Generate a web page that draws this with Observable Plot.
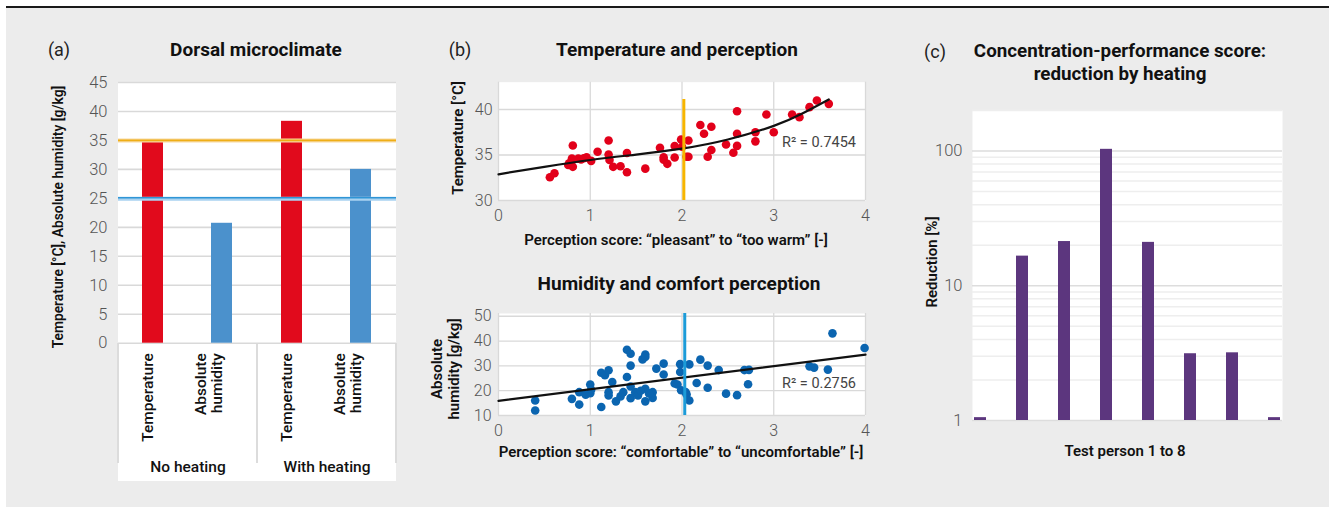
<!DOCTYPE html>
<html>
<head>
<meta charset="utf-8">
<script src="https://cdn.jsdelivr.net/npm/d3@7"></script>
<script src="https://cdn.jsdelivr.net/npm/@observablehq/plot@0.6"></script>
<style>
  html, body { margin: 0; padding: 0; background: #ffffff; }
  #root { position: relative; width: 1335px; height: 507px; overflow: hidden; font-family: Roboto, "Liberation Sans", sans-serif; }
  .bg { position: absolute; left: 6px; top: 8px; width: 1323px; height: 499px; background: #ececec; }
  .topline { position: absolute; left: 6px; top: 6px; width: 1323px; height: 2px; background: #1a1a1a; }
  .lbl { position: absolute; white-space: pre; text-align: center; color: #111; line-height: 1.15; }
  .plot { position: absolute; }
  .box { position: absolute; background: #ffffff; }
  .sep { position: absolute; background: #dcdcdc; width: 2px; }
</style>
</head>
<body>
<div id="root">
  <div class="bg"></div>
  <div class="topline"></div>
</div>
<script>
// ---------------- DATA ----------------
// (a) Dorsal microclimate
const groupsA = ["No heating", "With heating"];
const catsA = ["Temperature", "Absolute humidity"];
const catLabelsA = ["Temperature", "Absolute\nhumidity"];
const noHeating = [34.7, 20.7];
const withHeating = [38.3, 30.0];
const refTemperature = 35;
const refHumidity = 25.1;
const yTicksA = [0, 5, 10, 15, 20, 25, 30, 35, 40, 45];

// (b) Temperature and perception
const tempScore = [0.56,0.61,0.77,0.81,0.80,0.81,0.87,0.93,0.96,1.01,1.08,1.20,1.20,1.21,1.25,1.33,1.40,1.40,1.60,1.76,1.80,1.80,1.84,1.92,1.92,1.99,2.00,2.05,2.07,2.07,2.20,2.24,2.28,2.32,2.32,2.48,2.56,2.60,2.60,2.60,2.80,2.80,2.92,3.00,3.20,3.28,3.39,3.47,3.60,0.76,0.90];
const tempValue = [32.56,33.0,34.1,36.04,34.6,33.7,34.6,34.65,34.76,34.35,35.35,36.6,35.05,34.45,33.7,33.77,35.22,33.1,33.5,35.8,34.76,34.47,34.03,35.98,34.72,36.7,35.9,34.8,36.6,34.8,38.3,37.33,34.8,38.1,35.55,36.15,35.24,39.8,37.33,36.0,37.5,36.5,39.45,37.5,39.45,39.16,40.26,40.99,40.62,33.9,34.5];
const tempTrendX = [0, 0.5, 1, 1.5, 2, 2.5, 3, 3.3, 3.6];
const tempTrendY = [32.88, 33.7, 34.45, 35.05, 35.7, 36.7, 38.2, 39.5, 41.1];
const tempThreshold = 2.02;
const tempThresholdTop = 41.1;
const tempR2 = "R² = 0.7454";
const xTicksB = [0, 1, 2, 3, 4];
const yTicksB1 = [30, 35, 40];

// (b) Humidity and comfort perception
const humScore = [0.40,0.40,0.80,0.88,0.88,0.95,1.00,1.00,1.01,1.12,1.12,1.16,1.20,1.20,1.20,1.24,1.28,1.33,1.36,1.40,1.40,1.44,1.44,1.44,1.44,1.49,1.52,1.57,1.60,1.60,1.60,1.60,1.68,1.68,1.72,1.80,1.80,1.92,1.95,1.98,1.98,1.99,2.04,2.05,2.08,2.08,2.16,2.20,2.28,2.28,2.40,2.48,2.60,2.68,2.73,2.72,3.39,3.44,3.59,3.64,3.99,1.55,1.64];
const humValue = [16.06,12.0,16.7,14.4,19.4,18.4,22.5,19.0,20.4,13.4,27.2,26.2,28.2,19.4,18.1,23.5,15.7,17.7,19.4,25.5,36.5,34.9,30.1,17.0,21.7,19.4,18.1,32.6,34.6,33.6,20.8,15.7,19.4,17.1,28.9,30.9,26.5,22.9,22.5,30.7,27.5,20.2,19.4,18.5,16.06,30.6,23.1,32.5,30.1,21.2,28.3,18.8,18.2,28.3,28.4,22.6,29.8,29.3,28.5,43.1,37.2,20.0,18.9];
const humTrendX = [0, 4];
const humTrendY = [15.9, 34.5];
const humThreshold = 2.03;
const humR2 = "R² = 0.2756";
const yTicksB2 = [10, 20, 30, 40, 50];

// (c) Concentration-performance score
const persons = [1, 2, 3, 4, 5, 6, 7, 8];
const reduction = [1.05, 16.6, 21.3, 103, 21.0, 3.13, 3.18, 1.05];
const yTicksC = [1, 10, 100];
const yMinorC = [2,3,4,5,6,7,8,9,20,30,40,50,60,70,80,90,200];

// ---------------- STYLE ----------------
const FONT = 'Roboto, "Liberation Sans", sans-serif';
const RED = "#e10a1c";
const BLUE_BAR = "#4b91cc";
const DOT_RED = "#e2001a";
const DOT_BLUE = "#0b65b0";
const GRID = "#d9d9d9";
const TICK = "#555555";

const root = document.getElementById("root");

function place(el, left, top) {
  el.classList.add("plot");
  el.style.left = left + "px";
  el.style.top = top + "px";
  root.appendChild(el);
}
function label(text, cx, cy, {size = 14, weight = 500, rotate = 0, color = "#111"} = {}) {
  const d = document.createElement("div");
  d.className = "lbl";
  d.textContent = text;
  d.style.left = cx + "px";
  d.style.top = cy + "px";
  d.style.fontSize = size + "px";
  d.style.fontWeight = weight;
  d.style.color = color;
  d.style.transform = `translate(-50%,-50%)` + (rotate ? ` rotate(${rotate}deg)` : "");
  root.appendChild(d);
}
function box(l, t, w, h, cls = "box") {
  const d = document.createElement("div");
  d.className = cls;
  d.style.left = l + "px"; d.style.top = t + "px";
  d.style.width = w + "px"; d.style.height = h + "px";
  root.appendChild(d);
}
const baseStyle = {fontFamily: FONT, background: "transparent", overflow: "visible", color: TICK};

// ---------------- PANEL (a) ----------------
const FA = {left: 118, right: 396, top: 82, bottom: 342.7};
box(FA.left, FA.top, FA.right - FA.left, 481 - FA.top);
[FA.left, (FA.left + FA.right) / 2, FA.right].forEach(x => box(x - 1, 343, 2, 120, "sep"));

const dataA = groupsA.flatMap((g, i) => catsA.map((c, j) => ({
  group: g, cat: c, label: catLabelsA[j], value: (i === 0 ? noHeating : withHeating)[j]
})));

const plotA = Plot.plot({
  width: FA.right + 24,
  height: 507,
  marginLeft: FA.left, marginRight: 24, marginTop: FA.top, marginBottom: 507 - FA.bottom,
  style: {...baseStyle, fontSize: "16px"},
  fx: {domain: groupsA, padding: 0, label: null},
  x: {domain: catsA, paddingInner: 0.69, paddingOuter: 0.345, axis: null},
  y: {domain: [0, 45], label: null},
  color: {domain: catsA, range: [RED, BLUE_BAR]},
  marks: [
    Plot.gridY(yTicksA, {stroke: GRID, strokeOpacity: 1, strokeWidth: 1.6}),
    Plot.barY(dataA, {fx: "group", x: "cat", y: "value", fill: "cat"}),
    Plot.ruleY([refTemperature], {stroke: "#f7d9a0", strokeWidth: 4}),
    Plot.ruleY([refTemperature], {stroke: "#efae16", strokeWidth: 1.8}),
    Plot.ruleY([refHumidity], {stroke: "#a9d2f0", strokeWidth: 4, dy: 1}),
    Plot.ruleY([refHumidity], {stroke: "#2f95d6", strokeWidth: 1.6}),
    Plot.text(dataA, {fx: "group", x: "cat", text: "label", frameAnchor: "bottom", dy: 10,
      rotate: -90, textAnchor: "end", fontSize: 15.5, fontWeight: 500, fill: "#111", lineHeight: 1.05}),
    Plot.axisY(yTicksA, {tickSize: 0, tickPadding: 11, fontSize: 16.5, fontWeight: 300, fill: TICK, label: null}),
    Plot.axisFx({anchor: "bottom", tickSize: 0, tickPadding: 118, fontSize: 15.5, fontWeight: 500, fill: "#111", label: null})
  ]
});
place(plotA, 0, 0);

label("(a)", 59, 50, {size: 18, weight: 400, color: "#222"});
label("Dorsal microclimate", 256, 50, {size: 19, weight: 700});
label("Temperature [°C], Absolute humidity [g/kg]", 59, 217, {size: 13.8, weight: 600, rotate: -90});

// ---------------- PANEL (b) top ----------------
const FB1 = {left: 498, right: 865, top: 81.7, bottom: 200};
const svgB1 = {left: 420, top: 60};
const dataB1 = tempScore.map((s, i) => ({s, v: tempValue[i]}));
const trendB1 = tempTrendX.map((x, i) => ({x, y: tempTrendY[i]}));
const plotB1 = Plot.plot({
  width: 460,
  height: FB1.bottom - svgB1.top + 30,
  marginLeft: FB1.left - svgB1.left, marginRight: 460 - (FB1.right - svgB1.left),
  marginTop: FB1.top - svgB1.top, marginBottom: 30,
  style: {...baseStyle, fontSize: "16px"},
  x: {domain: [0, 4], label: null},
  y: {domain: [30, 43], label: null},
  marks: [
    Plot.frame({fill: "white", stroke: null}),
    Plot.gridX(xTicksB, {stroke: GRID, strokeOpacity: 1, strokeWidth: 1.3}),
    Plot.gridY(yTicksB1, {stroke: GRID, strokeOpacity: 1, strokeWidth: 1.3}),
    Plot.dot(dataB1, {x: "s", y: "v", r: 4.3, fill: DOT_RED}),
    Plot.line(trendB1, {x: "x", y: "y", stroke: "#111", strokeWidth: 2.2, curve: "natural"}),
    Plot.ruleX([tempThreshold], {y1: 30, y2: tempThresholdTop, stroke: "#f7b500", strokeWidth: 3}),
    Plot.text([tempR2], {x: 3.09, y: 36.4, text: d => d, textAnchor: "start", fontSize: 14.5, fill: "#444"}),
    Plot.axisX(xTicksB, {tickSize: 0, tickPadding: 9, fontWeight: 300, fill: TICK, label: null}),
    Plot.axisY(yTicksB1, {tickSize: 0, tickPadding: 6, fontWeight: 300, fill: TICK, label: null})
  ]
});
place(plotB1, svgB1.left, svgB1.top);

label("(b)", 460, 50, {size: 18, weight: 400, color: "#222"});
label("Temperature and perception", 677, 50, {size: 19, weight: 700});
label("Temperature [°C]", 459, 138, {size: 15, weight: 600, rotate: -90});
label("Perception score: “pleasant” to “too warm” [-]", 676, 241, {size: 15, weight: 600});

// ---------------- PANEL (b) bottom ----------------
const FB2 = {left: 498, right: 865, top: 313, bottom: 415};
const svgB2 = {left: 420, top: 290};
const dataB2 = humScore.map((s, i) => ({s, v: humValue[i]}));
const trendB2 = humTrendX.map((x, i) => ({x, y: humTrendY[i]}));
const plotB2 = Plot.plot({
  width: 460,
  height: FB2.bottom - svgB2.top + 30,
  marginLeft: FB2.left - svgB2.left, marginRight: 460 - (FB2.right - svgB2.left),
  marginTop: FB2.top - svgB2.top, marginBottom: 30,
  style: {...baseStyle, fontSize: "16px"},
  x: {domain: [0, 4], label: null},
  y: {domain: [10, 51.1], label: null},
  marks: [
    Plot.frame({fill: "white", stroke: null}),
    Plot.gridX(xTicksB, {stroke: GRID, strokeOpacity: 1, strokeWidth: 1.3}),
    Plot.gridY(yTicksB2, {stroke: GRID, strokeOpacity: 1, strokeWidth: 1.3}),
    Plot.dot(dataB2, {x: "s", y: "v", r: 4.3, fill: DOT_BLUE}),
    Plot.line(trendB2, {x: "x", y: "y", stroke: "#111", strokeWidth: 2.2}),
    Plot.ruleX([humThreshold], {y1: 10, y2: 51.1, stroke: "#1c9bd8", strokeWidth: 3}),
    Plot.text([humR2], {x: 3.09, y: 22.8, text: d => d, textAnchor: "start", fontSize: 14.5, fill: "#444"}),
    Plot.axisX(xTicksB, {tickSize: 0, tickPadding: 9, fontWeight: 300, fill: TICK, label: null}),
    Plot.axisY(yTicksB2, {tickSize: 0, tickPadding: 7, fontWeight: 300, fill: TICK, label: null})
  ]
});
place(plotB2, svgB2.left, svgB2.top);

label("Humidity and comfort perception", 679, 284, {size: 19, weight: 700});
label("Absolute\nhumidity [g/kg]", 446, 369, {size: 15, weight: 600, rotate: -90});
label("Perception score: “comfortable” to “uncomfortable” [-]", 681, 453, {size: 15, weight: 600});

// ---------------- PANEL (c) ----------------
const FC = {left: 972, right: 1282, top: 110, bottom: 420};
const svgC = {left: 880, top: 90};
const dataC = persons.map((p, i) => ({p, v: reduction[i]}));
const plotC = Plot.plot({
  width: 455,
  height: FC.bottom - svgC.top + 30,
  marginLeft: FC.left - svgC.left, marginRight: 455 - (FC.right - svgC.left),
  marginTop: FC.top - svgC.top, marginBottom: 30,
  style: {...baseStyle, fontSize: "16.5px"},
  x: {domain: persons, paddingInner: 0.706, paddingOuter: 0, axis: null},
  y: {type: "log", domain: [1, 200], label: null},
  marks: [
    Plot.frame({fill: "white", stroke: null}),
    Plot.gridY(yMinorC, {stroke: "#eeeeee", strokeOpacity: 1, strokeWidth: 1.5}),
    Plot.gridY(yTicksC, {stroke: "#dddddd", strokeOpacity: 1, strokeWidth: 1.6}),
    Plot.barY(dataC, {x: "p", y1: 1, y2: "v", fill: "#5c367e"}),
    Plot.axisY(yTicksC, {tickSize: 0, tickPadding: 10, fontWeight: 300, fill: TICK, label: null, tickFormat: d => String(d)})
  ]
});
place(plotC, svgC.left, svgC.top);

label("(c)", 935, 52, {size: 18, weight: 400, color: "#222"});
label("Concentration-performance score:", 1120, 52, {size: 18.8, weight: 700});
label("reduction by heating", 1120, 75, {size: 18.8, weight: 700});
label("Reduction [%]", 933, 262, {size: 15, weight: 600, rotate: -90});
label("Test person 1 to 8", 1125, 452, {size: 15, weight: 600});
</script>
</body>
</html>
